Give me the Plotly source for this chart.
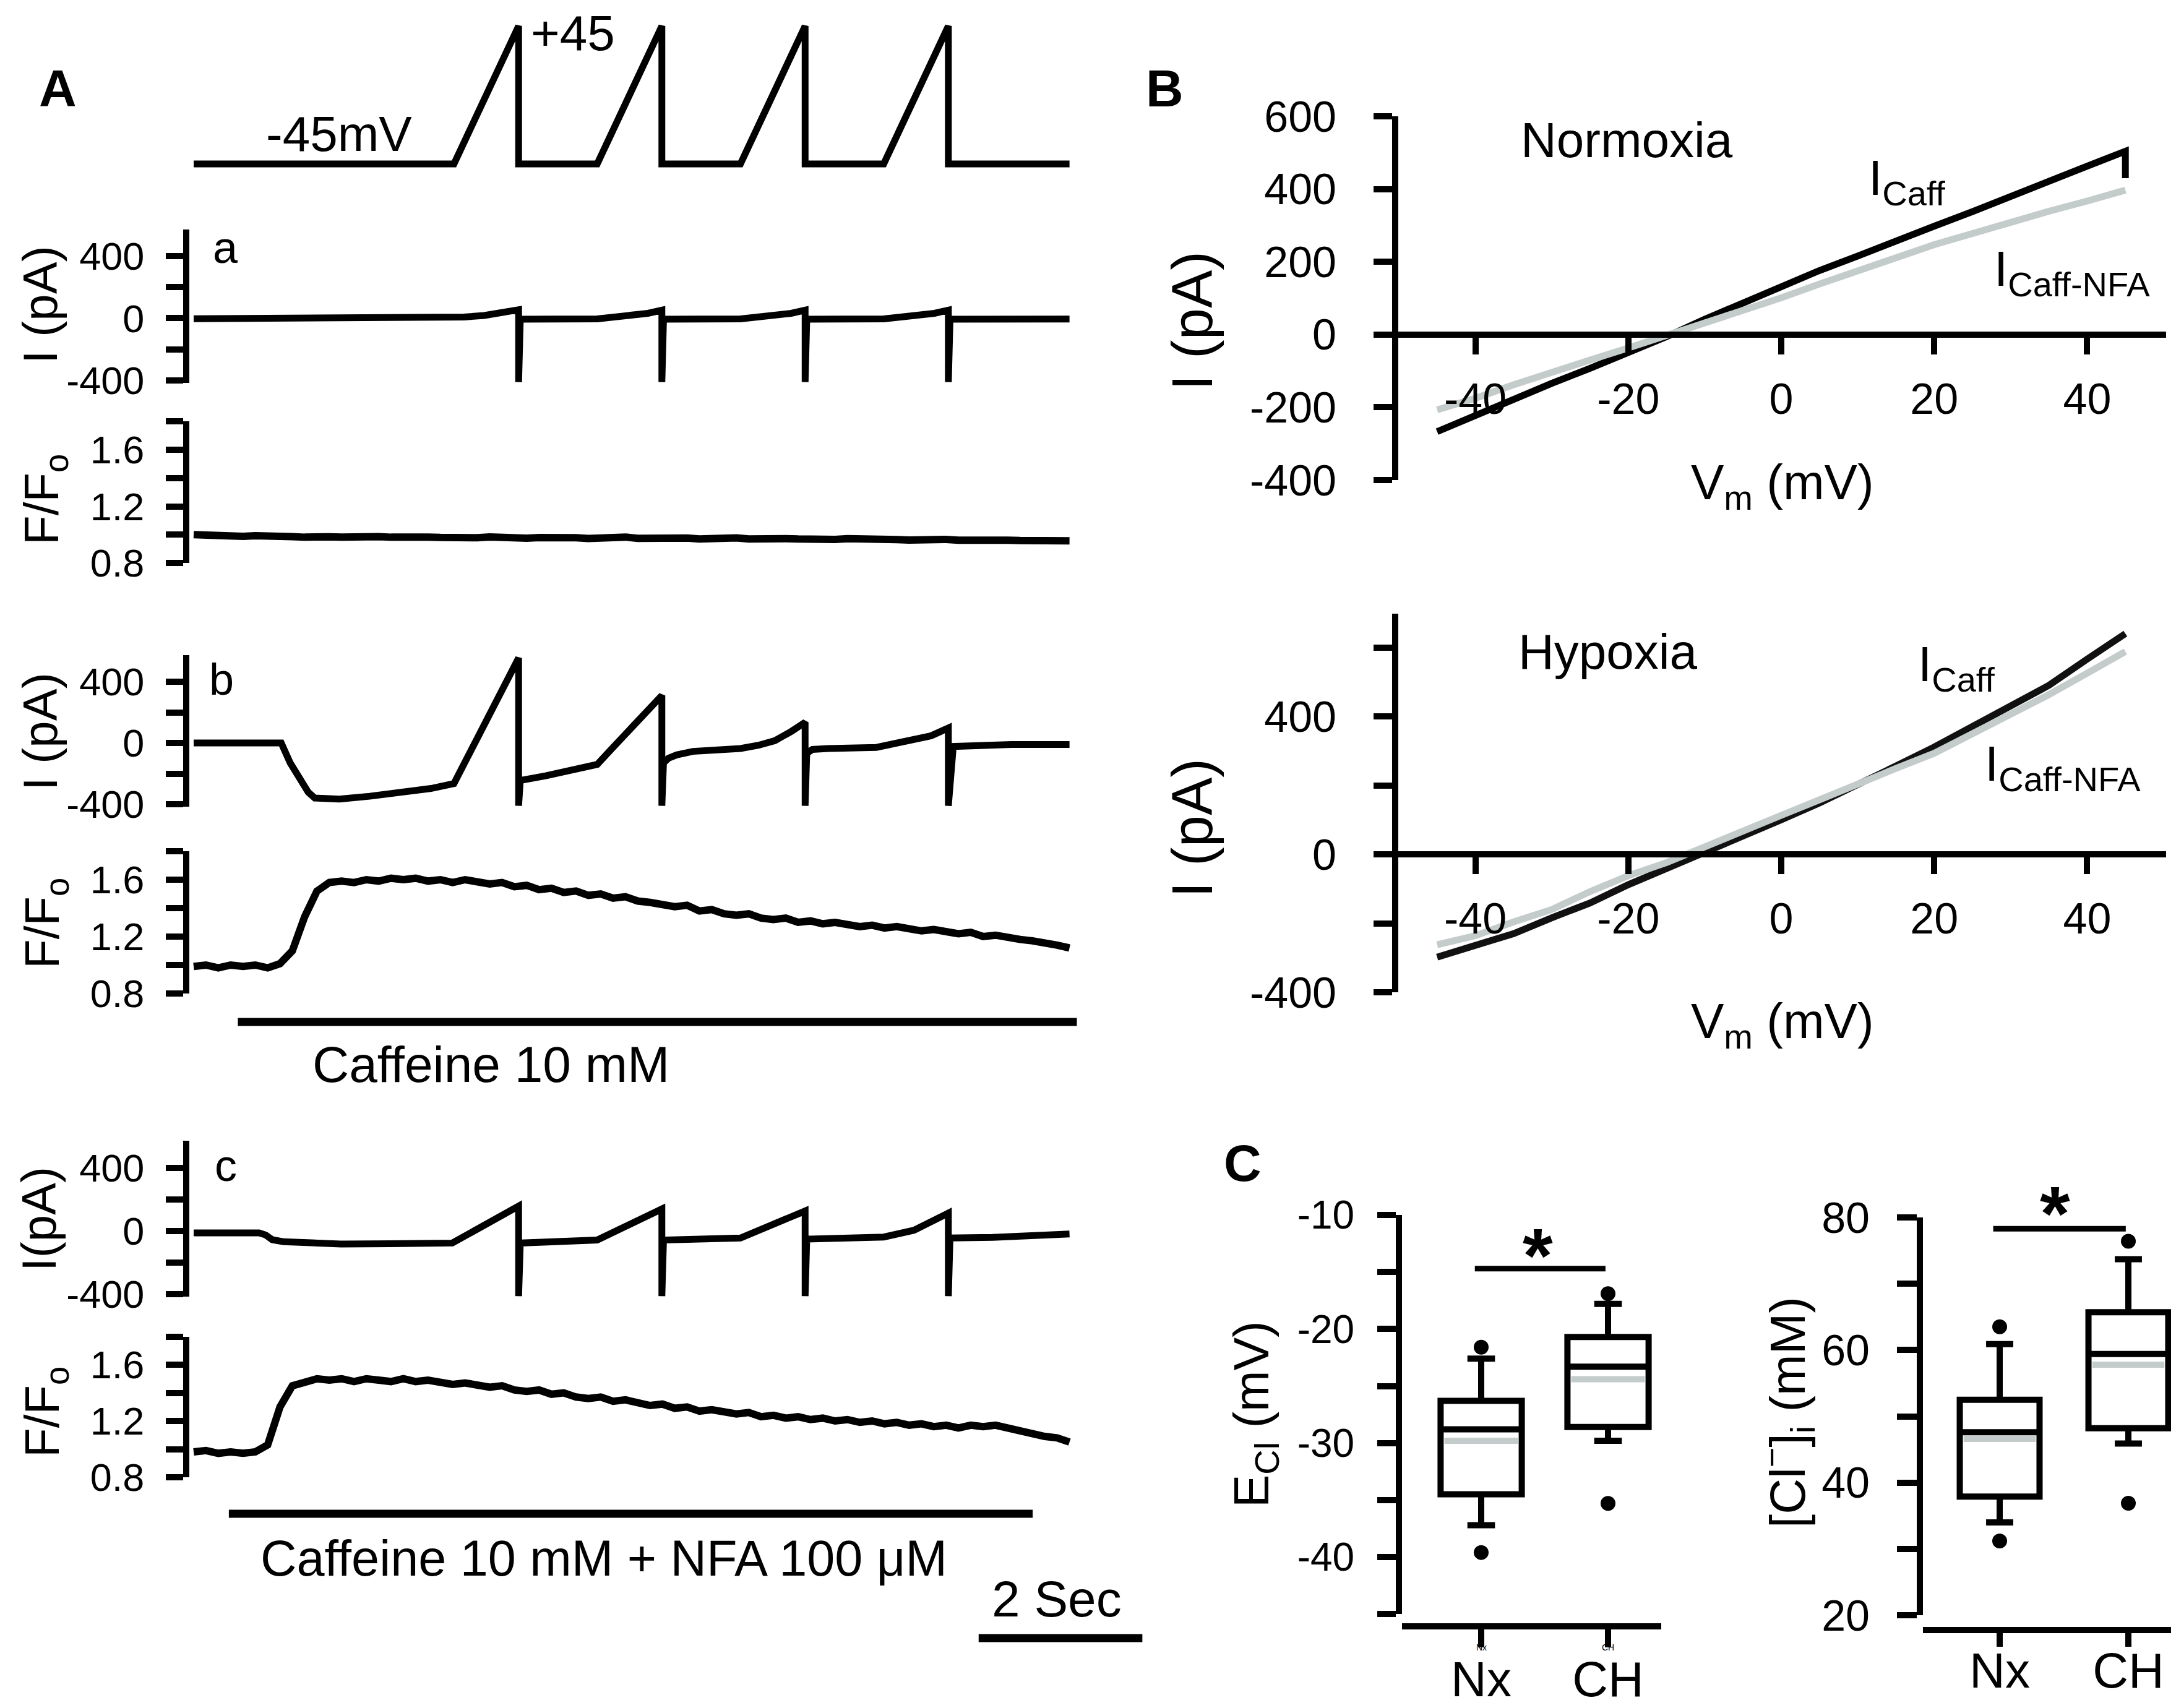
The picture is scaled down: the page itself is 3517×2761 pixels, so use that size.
import numpy as np
import plotly.graph_objects as go

# ======================= DATA =======================
# ---- Panel A : voltage protocol (time s, mV) ----
t_volt = [0.00, 3.18, 3.97, 3.97, 4.93, 5.72, 5.72, 6.68, 7.47, 7.47, 8.43, 9.22, 9.22, 10.70]
v_volt = [-45, -45, 45, -45, -45, 45, -45, -45, 45, -45, -45, 45, -45, -45]

# a : control current (pA)
t_Ia = [0.0, 2.6, 3.0, 3.3, 3.55, 3.8, 3.97, 3.97, 3.99, 4.93, 5.15, 5.35, 5.55, 5.72, 5.72, 5.74,
        6.68, 6.9, 7.1, 7.3, 7.47, 7.47, 7.49, 8.43, 8.65, 8.85, 9.05, 9.22, 9.22, 9.24, 10.70]
I_a = [-3, -2, 2, 8, 18, 34, 55, -410, -6, -4, 6, 16, 32, 52, -410, -6,
       -4, 6, 16, 32, 52, -410, -6, -4, 6, 16, 32, 52, -410, -6, -5]
F_a = [1.000, 0.994, 0.990, 0.995, 0.988, 0.992, 0.986, 0.991, 0.986, 0.982,
       0.989, 0.985, 0.983, 0.988, 0.981, 0.986, 0.982, 0.985, 0.978, 0.983,
       0.980, 0.976, 0.982, 0.978, 0.984, 0.977, 0.980, 0.975, 0.979, 0.982,
       0.975, 0.978, 0.973, 0.979, 0.975, 0.983, 0.974, 0.977, 0.980, 0.971,
       0.976, 0.969, 0.974, 0.971, 0.977, 0.969, 0.973, 0.967, 0.972, 0.969,
       0.965, 0.971, 0.966, 0.972, 0.967, 0.964, 0.969, 0.965, 0.962, 0.967,
       0.963, 0.966, 0.961, 0.964, 0.959, 0.957, 0.961, 0.958, 0.960, 0.955,
       0.958, 0.956]

# b : caffeine 10 mM
t_Ib = [0.0, 1.0, 1.07, 1.18, 1.29, 1.40, 1.48, 1.78, 2.15, 2.52, 2.90, 3.18, 3.97, 3.97, 3.99,
        4.3, 4.6, 4.93, 5.10, 5.72, 5.72, 5.74, 5.80, 5.90, 6.10, 6.40, 6.68, 6.90, 7.10, 7.30,
        7.47, 7.47, 7.49, 7.56, 7.75, 8.34, 8.72, 9.01, 9.22, 9.22, 9.28, 9.99, 10.70]
I_b = [0, 0, 0, -131, -233, -322, -360, -367, -348, -322, -297, -265, 555, -410, -245,
       -215, -180, -140, -42, 310, -410, -130, -100, -78, -55, -45, -36, -15, 15, 75,
       135, -410, -67, -42, -36, -29, 9, 47, 98, -410, -23, -10, -10]
F_b = [0.99, 1.00, 0.98, 1.00, 0.99, 1.00, 0.98, 1.01, 1.10, 1.34,
       1.52, 1.58, 1.59, 1.58, 1.60, 1.59, 1.61, 1.60, 1.61, 1.59,
       1.60, 1.58, 1.60, 1.58, 1.57, 1.58, 1.55, 1.56, 1.53, 1.54,
       1.51, 1.52, 1.49, 1.50, 1.47, 1.48, 1.45, 1.44, 1.42, 1.41,
       1.42, 1.38, 1.39, 1.36, 1.35, 1.36, 1.33, 1.32, 1.33, 1.30,
       1.31, 1.29, 1.30, 1.28, 1.27, 1.28, 1.26, 1.27, 1.25, 1.24,
       1.25, 1.23, 1.22, 1.23, 1.20, 1.21, 1.19, 1.18, 1.17, 1.16,
       1.14, 1.12]

# c : caffeine 10 mM + NFA 100 uM
t_Ic = [0.0, 0.80, 0.88, 0.96, 1.10, 1.40, 1.80, 2.40, 3.16, 3.97, 3.97, 3.99, 4.93, 5.72, 5.72,
        5.74, 6.68, 7.47, 7.47, 7.49, 8.43, 8.80, 9.22, 9.22, 9.24, 9.76, 10.20, 10.70]
I_c = [-12, -12, -25, -55, -68, -76, -82, -80, -76, 158, -413, -76, -57, 140, -413,
       -57, -44, 127, -413, -51, -38, 5, 114, -413, -44, -40, -28, -19]
F_c = [0.98, 0.99, 0.97, 0.98, 0.97, 0.98, 1.03, 1.30, 1.45, 1.48,
       1.50, 1.49, 1.50, 1.48, 1.50, 1.49, 1.48, 1.50, 1.48, 1.49,
       1.47, 1.46, 1.47, 1.45, 1.44, 1.45, 1.42, 1.41, 1.42, 1.39,
       1.40, 1.37, 1.36, 1.37, 1.34, 1.35, 1.33, 1.31, 1.32, 1.29,
       1.30, 1.27, 1.28, 1.26, 1.25, 1.26, 1.23, 1.24, 1.22, 1.23,
       1.21, 1.22, 1.20, 1.21, 1.19, 1.20, 1.18, 1.19, 1.17, 1.18,
       1.16, 1.17, 1.15, 1.17, 1.16, 1.17, 1.15, 1.13, 1.10, 1.09,
       1.08, 1.05]
F_duration = 10.70

caff_bar = [0.54, 10.79]
nfa_bar = [0.43, 10.25]
scale_start, scale_len = 9.59, 2.0

# ---- Panel B : I-V relations ----
vm = [-45, -40, -35, -30, -25, -20, -15, -10, -5, 0, 5, 10, 15, 20, 25, 30, 35, 40, 45]
nx_Icaff = [-267, -222, -180, -134, -93, -50, -6, 42, 87, 133, 176, 216, 259, 298, 338, 381, 420, 463, 504]
nx_Icaff_end = [45, 430]
nx_Infa = [-207, -175, -138, -106, -70, -37, -3, 33, 68, 101, 139, 173, 211, 247, 279, 307, 339, 367, 397]
ch_Icaff = [-298, -264, -230, -184, -141, -88, -41, 2, 51, 100, 149, 201, 256, 311, 370, 430, 490, 566, 640]
ch_Infa = [-262, -236, -196, -160, -108, -62, -24, 20, 67, 113, 158, 206, 249, 293, 348, 405, 463, 525, 588]
vm_ticks = [-40, -20, 0, 20, 40]
vm_ticktext = ["-40", "-20", "0", "20", "40"]

# ---- Panel C : box statistics ----
groups = ["Nx", "CH"]
ecl_q1 = [-34.5, -28.6]; ecl_med = [-28.8, -23.3]; ecl_q3 = [-26.3, -20.7]
ecl_lo = [-37.2, -29.8]; ecl_hi = [-22.6, -17.8]; ecl_mean = [-29.8, -24.4]
ecl_out = [[-39.6, -21.6], [-35.3, -16.9]]
ecl_sig_y = -14.7

cl_q1 = [37.9, 48.2]; cl_med = [47.6, 59.4]; cl_q3 = [52.5, 65.7]
cl_lo = [34.0, 45.9]; cl_hi = [60.9, 73.7]; cl_mean = [46.6, 57.8]
cl_out = [[31.2, 63.5], [36.9, 76.4]]
cl_sig_y = 78.3

# ======================= LAYOUT HELPERS =======================
W, H = 3517, 2761
FONT = "Liberation Sans, Arial, Helvetica, sans-serif"
GRAY = "#c3cccb"


def px(x):
    return x / W


def py(y):
    return 1 - y / H


def ydom(v1, p1, v2, p2, lo, hi):
    s = (p2 - p1) / (v1 - v2)
    top = p1 - (hi - v1) * s
    bot = p1 + (v1 - lo) * s
    return [py(bot), py(top)], (lambda v: p1 + (v1 - v) * s)


def nm(kind, n):
    return kind + ("" if n == 1 else str(n))


def rf(c, n):
    return c + ("" if n == 1 else str(n))


fig = go.Figure()
layout = {}


def add(tr, n):
    tr.update(xaxis=rf("x", n), yaxis=rf("y", n), showlegend=False, hoverinfo="skip")
    fig.add_trace(tr)


def line(x, y, n, width=11, color="black"):
    add(go.Scatter(x=x, y=y, mode="lines", line=dict(color=color, width=width)), n)


def yax(n, dom, rng, tv, tt, size, standoff, ticklen=28, lw=10):
    layout[nm("yaxis", n)] = dict(
        domain=dom, range=rng, anchor=rf("x", n), showline=True, linecolor="black",
        linewidth=lw, ticks="outside", ticklen=ticklen, tickwidth=lw, tickcolor="black",
        tickvals=tv, ticktext=tt, tickfont=dict(family=FONT, size=size, color="black"),
        ticklabelstandoff=standoff, showgrid=False, zeroline=False, automargin=False)


def hidden_y(n, dom, rng):
    layout[nm("yaxis", n)] = dict(domain=dom, range=rng, visible=False, anchor=rf("x", n),
                                  automargin=False)


# ---- Panel A axes (time) ----
T_PX0, T_PXS = 305.0, 132.3
A_X0, A_X1 = 298, 1900
t_range = [(A_X0 - T_PX0) / T_PXS, (A_X1 - T_PX0) / T_PXS]
for n in range(1, 11):
    layout[nm("xaxis", n)] = dict(domain=[px(A_X0), px(A_X1)], range=t_range,
                                  visible=False, anchor=rf("y", n), automargin=False)

cur_tv = [-400, -200, 0, 200, 400]
cur_tt = ["-400", "", "0", "", "400"]
f_tv = [0.8, 1.0, 1.2, 1.4, 1.6, 1.8]
f_tt = ["0.8", "", "1.2", "", "1.6", ""]
A_TS, A_SO = 63, 22

d, _ = ydom(45, 34, -45, 257, -52, 52); hidden_y(1, d, [-52, 52])
d, _ = ydom(400, 406, -400, 607, -415, 572); yax(2, d, [-415, 572], cur_tv, cur_tt, A_TS, A_SO)
d, _ = ydom(1.6, 719, 0.8, 902, 0.8, 1.8); yax(3, d, [0.8, 1.8], f_tv, f_tt, A_TS, A_SO)
d, _ = ydom(400, 1094, -400, 1292, -415, 572); yax(4, d, [-415, 572], cur_tv, cur_tt, A_TS, A_SO)
d, _ = ydom(1.6, 1414, 0.8, 1598, 0.8, 1.8); yax(5, d, [0.8, 1.8], f_tv, f_tt, A_TS, A_SO)
hidden_y(6, [py(1664), py(1624)], [-1, 1])
d, _ = ydom(400, 1880, -400, 2084, -415, 572); yax(7, d, [-415, 572], cur_tv, cur_tt, A_TS, A_SO)
d, _ = ydom(1.6, 2198, 0.8, 2380, 0.8, 1.8); yax(8, d, [0.8, 1.8], f_tv, f_tt, A_TS, A_SO)
hidden_y(9, [py(2459), py(2419)], [-1, 1])
hidden_y(10, [py(2660), py(2620)], [-1, 1])

# ---- Panel A traces ----
line(t_volt, v_volt, 1)
line(t_Ia, I_a, 2)
line(np.linspace(0, F_duration, len(F_a)), F_a, 3, 12)
line(t_Ib, I_b, 4)
line(np.linspace(0, F_duration, len(F_b)), F_b, 5, 12)
line(caff_bar, [0, 0], 6, 13)
line(t_Ic, I_c, 7)
line(np.linspace(0, F_duration, len(F_c)), F_c, 8, 12)
line(nfa_bar, [0, 0], 9, 13)
line([scale_start, scale_start + scale_len], [0, 0], 10, 13)

# ---- Panel B axes ----
B_X0, B_X1, B_ZERO, B_S = 2252, 3493, 2871, 12.36
b_xr = [(B_X0 - B_ZERO) / B_S, (B_X1 - B_ZERO) / B_S]


def bx(n, zero_px):
    layout[nm("xaxis", n)] = dict(
        domain=[px(B_X0), px(B_X1)], range=b_xr, anchor="free", position=py(zero_px),
        showline=True, linecolor="black", linewidth=10, ticks="outside", ticklen=27,
        tickwidth=10, tickcolor="black", tickvals=vm_ticks, ticktext=vm_ticktext,
        tickfont=dict(family=FONT, size=70, color="black"), ticklabelstandoff=12,
        showgrid=False, zeroline=False, automargin=False)


d, f11 = ydom(600, 180, -400, 768, -400, 600)
yax(11, d, [-400, 600], [-400, -200, 0, 200, 400, 600],
    ["-400", "-200", "0", "200", "400", "600"], 70, 46, ticklen=30)
bx(11, f11(0))
d, f12 = ydom(400, 1150, -400, 1596, -400, 698)
yax(12, d, [-400, 698], [-400, -200, 0, 200, 400, 600],
    ["-400", "", "0", "", "400", ""], 70, 46, ticklen=30)
bx(12, f12(0))

line(vm + [nx_Icaff_end[0]], nx_Icaff + [nx_Icaff_end[1]], 11, 11, "black")
line(vm, nx_Infa, 11, 11, GRAY)
line(vm, ch_Icaff, 12, 11, "#111111")
line(vm, ch_Infa, 12, 11, GRAY)


# ---- Panel C axes ----
def cx(n, x0, x1, c0, step, axis_px, ticklen, size, standoff):
    layout[nm("xaxis", n)] = dict(
        domain=[px(x0), px(x1)], range=[(x0 - c0) / step, (x1 - c0) / step],
        anchor="free", position=py(axis_px), showline=True, linecolor="black", linewidth=10,
        ticks="outside", ticklen=ticklen, tickwidth=10, tickcolor="black", tickvals=[0, 1],
        ticktext=groups, tickfont=dict(family=FONT, size=size, color="black"),
        ticklabelstandoff=standoff, showgrid=False, zeroline=False, automargin=False)


cx(13, 2258, 2677, 2386, 205, 2621, 29, 80, -17)
d, _ = ydom(-10, 1956, -40, 2509, -45, -10)
yax(13, d, [-45, -10], [-45, -40, -35, -30, -25, -20, -15, -10],
    ["", "-40", "", "-30", "", "-20", "", "-10"], 64, 24, ticklen=30)
cx(14, 3100, 3513, 3224, 208, 2627, 22, 80, -30)
d, _ = ydom(80, 1960, 20, 2603, 20, 80)
yax(14, d, [20, 80], [20, 30, 40, 50, 60, 70, 80], ["20", "", "40", "", "60", "", "80"], 70, 30, ticklen=32)


def boxes(n, q1, med, q3, lo, hi, mean, outs, sig_y, width):
    for i in range(2):
        add(go.Box(x=[i], q1=[q1[i]], median=[med[i]], q3=[q3[i]], lowerfence=[lo[i]],
                   upperfence=[hi[i]], width=width, whiskerwidth=0.34, boxpoints=False,
                   fillcolor="white", line=dict(color="black", width=10)), n)
    for i in range(2):
        line([i - width / 2 + 0.03, i + width / 2 - 0.03], [mean[i], mean[i]], n, 10, GRAY)
    for i in range(2):
        add(go.Scatter(x=[i, i], y=outs[i], mode="markers",
                       marker=dict(color="black", size=24)), n)
    line([-0.05, 0.98], [sig_y, sig_y], n, 9)


boxes(13, ecl_q1, ecl_med, ecl_q3, ecl_lo, ecl_hi, ecl_mean, ecl_out, ecl_sig_y, 0.64)
boxes(14, cl_q1, cl_med, cl_q3, cl_lo, cl_hi, cl_mean, cl_out, cl_sig_y, 0.62)

# ======================= TEXT =======================
anns = []


def ann(text, x, y, size, angle=0, xanchor="center", yanchor="middle"):
    anns.append(dict(text=text, x=px(x), y=py(y), xref="paper", yref="paper",
                     showarrow=False, textangle=angle, xanchor=xanchor, yanchor=yanchor,
                     font=dict(family=FONT, size=size, color="black")))


ann("<b>A</b>", 85, 135, 84)
ann("<b>B</b>", 1875, 135, 84)
ann("<b>C</b>", 2000, 1872, 84)
ann("-45mV", 540, 208, 80)
ann("+45", 918, 46, 80)
ann("a", 356, 392, 72)
ann("b", 350, 1090, 72)
ann("c", 357, 1876, 72)
ann("Caffeine 10 mM", 785, 1712, 82)
ann("Caffeine 10 mM + NFA 100 μM", 968, 2511, 81)
ann("2 Sec", 1700, 2576, 82)
ann("I (pA)", 57, 485, 78, angle=-90)
ann("F/F<sub>o</sub>", 65, 800, 78, angle=-90)
ann("I (pA)", 57, 1175, 78, angle=-90)
ann("F/F<sub>o</sub>", 65, 1485, 78, angle=-90)
ann("I(pA)", 55, 1963, 78, angle=-90)
ann("F/F<sub>o</sub>", 65, 2275, 78, angle=-90)
ann("I (pA)", 1919, 510, 92, angle=-90)
ann("I (pA)", 1919, 1330, 92, angle=-90)
ann("Normoxia", 2621, 218, 80)
ann("Hypoxia", 2591, 1045, 80)
ann("I<sub>Caff</sub>", 3010, 285, 80, xanchor="left")
ann("I<sub>Caff-NFA</sub>", 3213, 433, 80, xanchor="left")
ann("I<sub>Caff</sub>", 3090, 1071, 80, xanchor="left")
ann("I<sub>Caff-NFA</sub>", 3198, 1232, 80, xanchor="left")
ann("V<sub>m</sub> (mV)", 2873, 778, 80)
ann("V<sub>m</sub> (mV)", 2873, 1648, 80)
ann("E<sub>Cl</sub> (mV)", 2020, 2278, 80, angle=-90)
ann("[Cl<sup>−</sup>]<sub>i</sub> (mM)", 2880, 2275, 80, angle=-90)
ann("Nx", 2386, 2655, 14)
ann("CH", 2591, 2655, 14)
# significance asterisks
ann("<b>*</b>", 2477, 2021, 125)
ann("<b>*</b>", 3313, 1953, 125)

fig.update_layout(**layout)
fig.update_layout(width=W, height=H, margin=dict(l=0, r=0, t=0, b=0, autoexpand=False),
                  paper_bgcolor="white", plot_bgcolor="white", showlegend=False,
                  annotations=anns, font=dict(family=FONT, color="black"))
fig.write_html("out.html")
